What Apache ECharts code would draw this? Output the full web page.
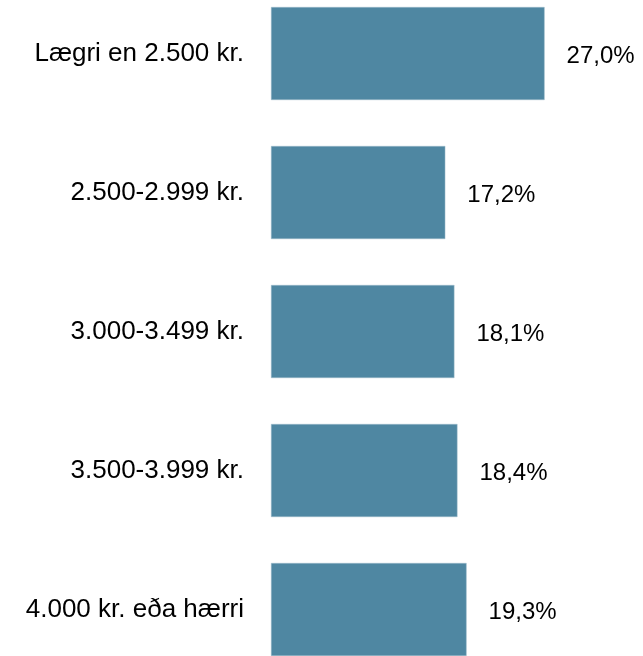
<!DOCTYPE html>
<html>
<head>
<meta charset="utf-8">
<script src="https://cdn.jsdelivr.net/npm/echarts@6/dist/echarts.min.js"></script>
<style>html,body{margin:0;padding:0;background:#fff;overflow:hidden;width:643px;height:656px;}#c{position:absolute;left:0;top:-16px;width:643px;height:695px;}</style>
</head>
<body>
<div id="c"></div>
<script>
const categories = ["Lægri en 2.500 kr.", "2.500-2.999 kr.", "3.000-3.499 kr.", "3.500-3.999 kr.", "4.000 kr. eða hærri"];
const values = [27.0, 17.2, 18.1, 18.4, 19.3];

const chart = echarts.init(document.getElementById('c'), null, {renderer: 'canvas'});
const font = '"Liberation Sans", Arial, sans-serif';
chart.setOption({
  animation: false,
  grid: {left: 271, right: 68, top: 0, bottom: 0, containLabel: false},
  xAxis: {type: 'value', min: 0, max: 30, show: false},
  yAxis: {
    type: 'category', data: categories, inverse: true,
    axisLine: {show: false}, axisTick: {show: false},
    axisLabel: {margin: 27, fontSize: 26, color: '#000', fontFamily: font}
  },
  series: [{
    type: 'bar', data: values, barWidth: 93,
    itemStyle: {color: '#4f87a2', borderColor: '#9fbccb', borderWidth: 0.5},
    label: {show: true, position: 'right', distance: 22, offset: [0, 3], fontSize: 24, color: '#000', fontFamily: font,
      formatter: p => p.value.toFixed(1).replace('.', ',') + '%'}
  }]
});
</script>
</body>
</html>
